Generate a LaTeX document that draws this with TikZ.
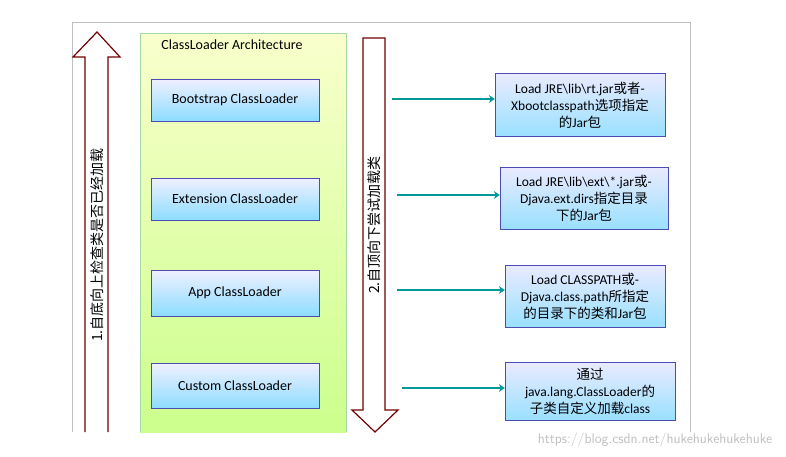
\documentclass[tikz,border=0pt]{standalone}
\usepackage{fontspec}
\setmainfont{Carlito}
\newfontfamily\cjk{Noto Sans CJK SC}
\newcommand{\zh}[1]{{\cjk #1}}
\usetikzlibrary{arrows.meta}
\tikzset{
  loader/.style={draw=gray!60!blue, top color=blue!6, bottom color=blue!30!cyan!45,
    minimum width=168, minimum height=42, font=\fontsize{14}{16}\selectfont},
  jarbox/.style={draw=gray!60!blue, top color=blue!8, bottom color=blue!30!cyan!40,
    align=center, inner sep=2pt, font=\fontsize{13.5}{17}\selectfont},
  loadarrow/.style={draw=teal!80!cyan, line width=2.5pt, -{Stealth[length=6pt,width=8pt]}},
  hollow/.style={draw=red!45!black, fill=white, line width=1.2pt}
}
\begin{document}
\begin{tikzpicture}[x=1pt,y=-1pt]
  \useasboundingbox (0,0) rectangle (786,456);
  \fill[white] (0,0) rectangle (786,456);

  % frame
  \draw[gray!50, line width=0.8pt] (72,432) -- (72,22) -- (690,22) -- (690,432);

  % green panel
  \fill[top color=green!12!yellow!20, bottom color=green!45!yellow!45] (140,33) rectangle (346,432);
  \draw[green!40!gray!50] (140,432) -- (140,33) -- (346,33) -- (346,432);
  \node[font=\fontsize{14}{16}\selectfont] (title) at (232,45) {ClassLoader Architecture};

  % loaders
  \node[loader] (boot) at (235,100) {Bootstrap ClassLoader};
  \node[loader] (ext)  at (235,199) {Extension ClassLoader};
  \node[loader, minimum height=46] (app)  at (235,293) {App ClassLoader};
  \node[loader, minimum height=45] (cust) at (235,386) {Custom ClassLoader};

  % up arrow
  \draw[hollow] (85,432) -- (85,57) -- (73,57) -- (97,32) -- (120,57) -- (108,57) -- (108,432);
  \node[rotate=90, font=\fontsize{14}{16}\selectfont] (up) at (97,245) {\zh{1.自底向上检查类是否已经加载}};

  % down arrow
  \draw[hollow] (363,38) -- (385,38) -- (385,410) -- (398,410) -- (375,432) -- (352,410) -- (363,410) -- cycle;
  \node[rotate=90, font=\fontsize{14}{16}\selectfont] (down) at (374,225) {\zh{2.自顶向下尝试加载类}};

  % jar boxes
  \node[jarbox, minimum width=170, minimum height=63] (jboot) at (580,105)
    {Load JRE\textbackslash lib\textbackslash rt.jar\zh{或者}-\\Xbootclasspath\zh{选项指定}\\\zh{的}Jar\zh{包}};
  \node[jarbox, minimum width=168, minimum height=62] (jext) at (584,198)
    {Load JRE\textbackslash lib\textbackslash ext\textbackslash *.jar\zh{或}-\\Djava.ext.dirs\zh{指定目录}\\\zh{下的}Jar\zh{包}};
  \node[jarbox, minimum width=160, minimum height=62] (japp) at (585,296)
    {Load CLASSPATH\zh{或}-\\Djava.class.path\zh{所指定}\\\zh{的目录下的类和}Jar\zh{包}};
  \node[jarbox, minimum width=170, minimum height=58] (jcust) at (590,391)
    {\zh{通过}\\java.lang.ClassLoader\zh{的}\\\zh{子类自定义加载}class};

  % connectors
  \coordinate (s1) at (392,99);
  \coordinate (s2) at (397,195);
  \coordinate (s3) at (397,290);
  \coordinate (s4) at (402,388);
  \draw[loadarrow] (s1) -- (s1 -| jboot.west);
  \draw[loadarrow] (s2) -- (s2 -| jext.west);
  \draw[loadarrow] (s3) -- (s3 -| japp.west);
  \draw[loadarrow] (s4) -- (s4 -| jcust.west);

  \node[gray!50, font=\fontsize{14}{16}\selectfont\sffamily] (mark) at (655,440) {https://blog.csdn.net/hukehukehukehuke};
\end{tikzpicture}
\end{document}
